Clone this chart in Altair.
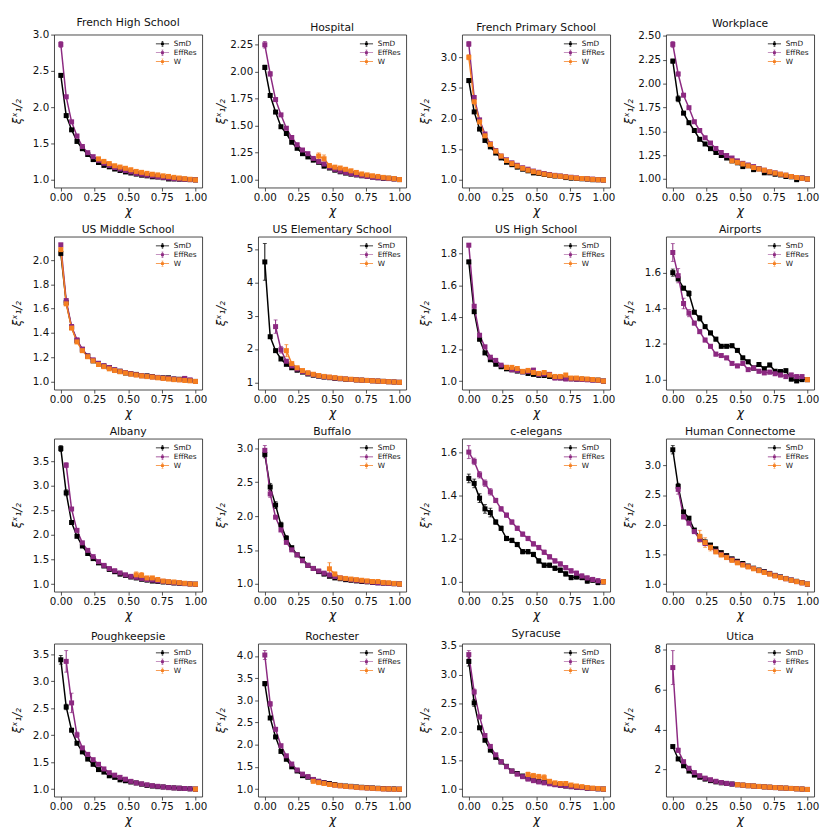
import altair as alt
import pandas as pd

N = None
CHI = [0.0, 0.04, 0.08, 0.12, 0.16, 0.2, 0.24, 0.28, 0.32, 0.36, 0.4, 0.44, 0.48,
       0.52, 0.56, 0.6, 0.64, 0.68, 0.72, 0.76, 0.8, 0.84, 0.88, 0.92, 0.96, 1.0]
SERIES = ["SmD", "EffRes", "W"]
COLORS = ["#000000", "#8c2981", "#f57f20"]
ERR_DEFAULT = 0.01
X_TICKS = [0.0, 0.25, 0.5, 0.75, 1.0]

# ---- French High School
FHS_SMD = [2.44, 1.886, 1.69, 1.53, 1.43, 1.35, 1.28, 1.24, 1.20, 1.18, 1.15, 1.13, 1.11, 1.095, 1.08, 1.065, 1.056, 1.043, 1.04, 1.03, 1.013, 1.013, 1.01, 1.009, 1.004, 1.0]
FHS_EFF = [2.866, 2.145, 1.80, 1.605, 1.46, 1.375, 1.32, 1.27, 1.23, 1.20, 1.17, 1.15, 1.13, 1.11, 1.09, 1.078, 1.065, 1.056, 1.043, 1.035, 1.026, 1.017, 1.013, 1.009, 1.004, 1.0]
FHS_W = [N, N, N, N, N, N, N, 1.29, 1.255, 1.225, 1.195, 1.177, 1.16, 1.14, 1.117, 1.104, 1.09, 1.078, 1.069, 1.056, 1.048, 1.035, 1.026, 1.017, 1.009, 1.0]
FHS_ERR = {"SmD": {0: 0.02}, "EffRes": {0: 0.04}}
FHS_TICKS = [1.0, 1.5, 2.0, 2.5, 3.0]

# ---- Hospital
HOS_SMD = [2.04, 1.78, 1.626, 1.49, 1.427, 1.346, 1.29, 1.24, 1.21, 1.18, 1.16, 1.124, 1.107, 1.087, 1.072, 1.06, 1.05, 1.043, 1.035, 1.03, 1.023, 1.017, 1.012, 1.012, 1.006, 1.0]
HOS_EFF = [2.25, 1.98, 1.742, 1.60, 1.476, 1.39, 1.323, 1.274, 1.24, 1.196, 1.167, 1.144, 1.115, 1.095, 1.078, 1.066, 1.055, 1.046, 1.038, 1.029, 1.023, 1.017, 1.014, 1.009, 1.006, 1.0]
HOS_W = [N, N, N, N, N, N, N, N, N, N, 1.217, 1.193, 1.13, 1.115, 1.107, 1.095, 1.081, 1.066, 1.052, 1.043, 1.035, 1.029, 1.02, 1.014, 1.009, 1.0]
HOS_ERR = {"SmD": {0: 0.02}, "EffRes": {0: 0.03, 1: 0.02}, "W": {10: 0.03, 11: 0.035}}
HOS_TICKS = [1.0, 1.25, 1.5, 1.75, 2.0, 2.25]

# ---- French Primary School
FPS_SMD = [2.62, 2.11, 1.83, 1.645, 1.54, 1.44, 1.36, 1.29, 1.25, 1.21, 1.176, 1.15, 1.116, 1.106, 1.09, 1.076, 1.065, 1.06, 1.04, 1.03, 1.025, 1.02, 1.015, 1.005, 1.005, 1.0]
FPS_EFF = [3.216, 2.345, 1.98, 1.75, 1.59, 1.48, 1.39, 1.33, 1.28, 1.24, 1.20, 1.176, 1.146, 1.126, 1.106, 1.09, 1.076, 1.065, 1.055, 1.045, 1.035, 1.025, 1.02, 1.015, 1.005, 1.0]
FPS_W = [3.0, 2.275, 1.947, 1.72, 1.58, 1.47, 1.39, 1.317, 1.267, 1.227, 1.19, 1.16, 1.136, 1.116, 1.096, 1.08, 1.07, 1.06, 1.05, 1.04, 1.03, 1.025, 1.02, 1.01, 1.005, 1.0]
FPS_ERR = {"SmD": {0: 0.03}, "EffRes": {0: 0.04}, "W": {0: 0.04}}
FPS_TICKS = [1.0, 1.5, 2.0, 2.5, 3.0]

# ---- Workplace
WRK_SMD = [2.235, 1.84, 1.69, 1.59, 1.508, 1.416, 1.367, 1.318, 1.278, 1.246, 1.22, 1.19, 1.17, 1.13, 1.14, 1.098, 1.108, 1.065, 1.065, 1.05, 1.043, 1.026, 1.023, 0.993, 1.01, 1.0]
WRK_EFF = [2.41, 2.10, 1.878, 1.747, 1.60, 1.508, 1.432, 1.377, 1.32, 1.278, 1.246, 1.22, 1.19, 1.164, 1.147, 1.13, 1.108, 1.092, 1.075, 1.065, 1.05, 1.04, 1.026, 1.016, 1.01, 1.0]
WRK_W = [N, N, N, N, N, N, N, N, N, N, N, 1.19, 1.174, 1.157, 1.138, 1.12, 1.105, 1.092, 1.075, 1.062, 1.05, 1.04, 1.026, 1.016, 1.007, 1.0]
WRK_ERR = {"SmD": {0: 0.02, 1: 0.03}, "EffRes": {0: 0.03, 1: 0.02}}
WRK_TICKS = [1.0, 1.25, 1.5, 1.75, 2.0, 2.25, 2.5]

# ---- US Middle School
UMS_SMD = [2.056, 1.65, 1.445, 1.336, 1.26, 1.21, 1.17, 1.145, 1.127, 1.115, 1.094, 1.084, 1.07, 1.064, 1.058, 1.048, 1.046, 1.04, 1.033, 1.03, 1.03, 1.02, 1.018, 1.02, 1.008, 1.0]
UMS_EFF = [2.127, 1.667, 1.453, 1.343, 1.267, 1.21, 1.178, 1.15, 1.13, 1.115, 1.097, 1.084, 1.074, 1.064, 1.056, 1.048, 1.043, 1.038, 1.033, 1.028, 1.025, 1.02, 1.015, 1.025, 1.013, 1.0]
UMS_W = [2.087, 1.64, 1.44, 1.326, 1.254, 1.204, 1.17, 1.14, 1.122, 1.104, 1.09, 1.08, 1.07, 1.06, 1.053, 1.046, 1.04, 1.036, 1.03, 1.025, 1.02, 1.015, 1.013, 1.008, 1.005, 1.0]
UMS_ERR = {"SmD": {0: 0.02}}
UMS_TICKS = [1.0, 1.2, 1.4, 1.6, 1.8, 2.0]

# ---- US Elementary School
UES_SMD = [4.61, 2.367, 1.95, 1.70, 1.54, 1.437, 1.363, 1.307, 1.25, 1.214, 1.186, 1.158, 1.14, 1.12, 1.11, 1.093, 1.084, 1.074, 1.065, 1.056, 1.047, 1.037, 1.028, 1.019, 1.01, 1.0]
UES_EFF = [N, N, 2.67, 1.977, 1.633, 1.493, 1.40, 1.326, 1.27, 1.23, 1.195, 1.167, 1.149, 1.13, 1.11, 1.10, 1.084, 1.074, 1.065, 1.056, 1.047, 1.037, 1.028, 1.019, 1.01, 1.0]
UES_W = [N, N, N, N, 1.95, 1.56, 1.437, 1.353, 1.288, 1.242, 1.205, 1.177, 1.158, 1.14, 1.12, 1.10, 1.093, 1.074, 1.065, 1.056, 1.047, 1.037, 1.028, 1.019, 1.01, 1.0]
UES_ERR = {"SmD": {0: 0.55}, "EffRes": {2: 0.2, 3: 0.1}, "W": {4: 0.18, 5: 0.05}}
UES_TICKS = [1, 2, 3, 4, 5]

# ---- US High School
UHS_SMD = [1.749, 1.436, 1.263, 1.177, 1.134, 1.106, 1.09, 1.077, 1.071, 1.063, 1.058, 1.048, 1.042, 1.036, 1.035, 1.029, 1.023, 1.021, 1.017, 1.015, 1.013, 1.012, 1.01, 1.008, 1.006, 1.0]
UHS_EFF = [1.854, 1.47, 1.288, 1.215, 1.15, 1.13, 1.10, 1.086, 1.071, 1.067, 1.058, 1.061, 1.069, 1.042, 1.044, 1.042, 1.019, 1.019, 1.013, 1.013, 1.012, 1.01, 1.008, 1.006, 1.004, 1.0]
UHS_W = [N, N, N, N, N, N, N, 1.086, 1.086, 1.079, 1.061, 1.067, 1.054, 1.048, 1.054, 1.038, 1.029, 1.029, 1.038, 1.019, 1.019, 1.015, 1.013, 1.01, 1.006, 1.0]
UHS_ERR = {}
UHS_TICKS = [1.0, 1.2, 1.4, 1.6, 1.8]

# ---- Airports
AIR_SMD = [1.60, 1.565, 1.513, 1.483, 1.378, 1.344, 1.297, 1.262, 1.227, 1.187, 1.187, 1.19, 1.164, 1.122, 1.10, 1.065, 1.085, 1.061, 1.082, 1.047, 1.045, 1.05, 1.003, 0.993, 1.0, 1.0]
AIR_EFF = [1.713, 1.583, 1.427, 1.373, 1.317, 1.269, 1.222, 1.187, 1.143, 1.135, 1.122, 1.091, 1.077, 1.091, 1.056, 1.065, 1.047, 1.038, 1.042, 1.033, 1.026, 1.017, 1.026, 1.017, 1.017, 1.0]
AIR_W = [N, N, N, N, N, N, N, N, N, N, N, N, N, N, N, N, N, N, N, N, N, N, N, N, N, 1.0]
AIR_ERR = {"SmD": {0: 0.02, 3: 0.015, 5: 0.015}, "EffRes": {0: 0.05, 1: 0.04, 2: 0.03, 3: 0.02}}
AIR_TICKS = [1.0, 1.2, 1.4, 1.6]

# ---- Albany
ALB_SMD = [3.755, 2.857, 2.253, 1.973, 1.776, 1.623, 1.52, 1.433, 1.37, 1.30, 1.254, 1.204, 1.178, 1.146, 1.127, 1.10, 1.083, 1.064, 1.057, 1.045, 1.038, 1.025, 1.019, 1.013, 1.006, 1.0]
ALB_EFF = [N, 3.417, 2.527, 2.094, 1.84, 1.687, 1.56, 1.458, 1.382, 1.318, 1.274, 1.229, 1.19, 1.159, 1.14, 1.115, 1.095, 1.083, 1.07, 1.057, 1.045, 1.032, 1.025, 1.013, 1.006, 1.0]
ALB_W = [N, N, N, N, N, N, N, N, N, N, N, N, N, N, 1.19, 1.178, 1.127, 1.127, 1.095, 1.064, 1.051, 1.045, 1.032, 1.019, 1.006, 1.0]
ALB_ERR = {"SmD": {0: 0.06, 1: 0.06}, "EffRes": {1: 0.05}, "W": {14: 0.06, 15: 0.06, 16: 0.03, 17: 0.03}}
ALB_TICKS = [1.0, 1.5, 2.0, 2.5, 3.0, 3.5]

# ---- Buffalo
BUF_SMD = [2.908, 2.428, 2.162, 1.87, 1.673, 1.535, 1.43, 1.366, 1.275, 1.229, 1.183, 1.146, 1.114, 1.09, 1.078, 1.064, 1.055, 1.046, 1.037, 1.032, 1.023, 1.018, 1.014, 1.009, 1.005, 1.0]
BUF_EFF = [2.968, 2.327, 1.984, 1.796, 1.613, 1.503, 1.43, 1.343, 1.275, 1.229, 1.192, 1.16, 1.133, 1.11, 1.09, 1.078, 1.064, 1.055, 1.046, 1.037, 1.027, 1.018, 1.014, 1.009, 1.005, 1.0]
BUF_W = [N, N, N, N, N, N, N, N, N, N, N, N, 1.224, 1.146, 1.09, 1.082, 1.073, 1.064, 1.055, 1.046, 1.037, 1.037, 1.023, 1.018, 1.009, 1.0]
BUF_ERR = {"SmD": {0: 0.05, 1: 0.05, 2: 0.05, 3: 0.04, 4: 0.04}, "EffRes": {0: 0.07, 1: 0.05}, "W": {12: 0.09, 13: 0.03}}
BUF_TICKS = [1.0, 1.5, 2.0, 2.5, 3.0]

# ---- c-elegans
CEL_SMD = [1.478, 1.455, 1.387, 1.337, 1.32, 1.276, 1.247, 1.20, 1.191, 1.172, 1.139, 1.139, 1.126, 1.096, 1.076, 1.076, 1.062, 1.053, 1.036, 1.019, 1.022, 1.019, 1.003, 1.007, 0.996, 1.0]
CEL_EFF = [1.60, 1.557, 1.495, 1.456, 1.416, 1.376, 1.337, 1.308, 1.276, 1.247, 1.22, 1.20, 1.175, 1.158, 1.136, 1.115, 1.096, 1.082, 1.065, 1.05, 1.039, 1.026, 1.017, 1.01, 1.004, 1.0]
CEL_W = [N, N, N, N, N, N, N, N, N, N, N, N, N, N, N, N, N, N, N, N, N, N, N, N, N, 1.0]
CEL_ERR = {"SmD": {0: 0.02, 1: 0.02, 2: 0.02, 3: 0.02, 4: 0.02, 10: 0.01, 14: 0.01},
           "EffRes": {0: 0.03, 1: 0.015, 2: 0.015, 3: 0.015, 4: 0.015}}
CEL_TICKS = [1.0, 1.2, 1.4, 1.6]

# ---- Human Connectome
HCN_SMD = [3.263, 2.647, 2.216, 2.11, 1.91, 1.795, 1.71, 1.658, 1.595, 1.53, 1.48, 1.426, 1.384, 1.347, 1.305, 1.268, 1.237, 1.21, 1.18, 1.147, 1.121, 1.095, 1.068, 1.047, 1.026, 1.0]
HCN_EFF = [N, 2.595, 2.13, 2.026, 1.884, 1.753, 1.684, 1.62, 1.553, 1.50, 1.453, 1.41, 1.368, 1.33, 1.295, 1.263, 1.23, 1.20, 1.174, 1.142, 1.116, 1.09, 1.068, 1.042, 1.021, 1.0]
HCN_W = [N, N, N, N, N, 1.805, 1.70, 1.62, 1.542, 1.49, 1.447, 1.40, 1.358, 1.32, 1.29, 1.258, 1.226, 1.195, 1.168, 1.137, 1.11, 1.09, 1.063, 1.042, 1.021, 1.0]
HCN_ERR = {"SmD": {0: 0.07, 1: 0.05}, "EffRes": {1: 0.08}, "W": {5: 0.1, 6: 0.08, 7: 0.06}}
HCN_TICKS = [1.0, 1.5, 2.0, 2.5, 3.0]

# ---- Poughkeepsie
POU_SMD = [3.397, 2.523, 2.092, 1.85, 1.69, 1.557, 1.46, 1.362, 1.316, 1.247, 1.218, 1.172, 1.155, 1.132, 1.115, 1.092, 1.069, 1.057, 1.046, 1.04, 1.029, 1.023, 1.017, 1.011, 1.006, 1.0]
POU_EFF = [N, 3.368, 2.598, 2.006, 1.764, 1.644, 1.546, 1.46, 1.374, 1.305, 1.259, 1.218, 1.184, 1.144, 1.115, 1.098, 1.08, 1.063, 1.052, 1.04, 1.029, 1.023, 1.017, 1.011, 1.006, 1.0]
POU_W = [N, N, N, N, N, N, N, N, N, N, N, N, N, N, N, N, N, N, N, N, N, N, N, N, N, 1.0]
POU_ERR = {"SmD": {0: 0.08, 1: 0.05}, "EffRes": {1: 0.2, 2: 0.18, 3: 0.05}}
POU_TICKS = [1.0, 1.5, 2.0, 2.5, 3.0, 3.5]

# ---- Rochester
ROC_SMD = [3.376, 2.603, 2.177, 1.851, 1.674, 1.504, 1.411, 1.305, 1.27, 1.213, 1.177, 1.149, 1.128, 1.106, 1.085, 1.071, 1.064, 1.05, 1.043, 1.035, 1.028, 1.021, 1.014, 1.007, 1.007, 1.0]
ROC_EFF = [4.02, 2.92, 2.348, 1.979, 1.752, 1.567, 1.433, 1.34, 1.284, 1.22, 1.177, 1.142, 1.113, 1.092, 1.078, 1.064, 1.057, 1.043, 1.035, 1.028, 1.021, 1.014, 1.007, 1.007, 1.0, 1.0]
ROC_W = [N, N, N, N, N, N, N, N, N, 1.177, 1.149, 1.128, 1.106, 1.092, 1.078, 1.064, 1.057, 1.043, 1.035, 1.028, 1.021, 1.014, 1.007, 1.007, 1.0, 1.0]
ROC_ERR = {"SmD": {0: 0.05}, "EffRes": {0: 0.1, 1: 0.05}}
ROC_TICKS = [1.0, 1.5, 2.0, 2.5, 3.0, 3.5, 4.0]

# ---- Syracuse
SYR_SMD = [3.228, 2.505, 2.07, 1.853, 1.68, 1.554, 1.473, 1.397, 1.315, 1.272, 1.228, 1.19, 1.163, 1.136, 1.12, 1.098, 1.082, 1.065, 1.054, 1.043, 1.033, 1.027, 1.016, 1.011, 1.005, 1.0]
SYR_EFF = [3.348, 2.696, 2.26, 1.935, 1.745, 1.598, 1.478, 1.391, 1.315, 1.26, 1.217, 1.174, 1.147, 1.125, 1.109, 1.092, 1.076, 1.065, 1.054, 1.043, 1.033, 1.027, 1.016, 1.011, 1.005, 1.0]
SYR_W = [N, N, N, N, N, N, N, N, N, N, N, 1.255, 1.234, 1.217, 1.20, 1.136, 1.109, 1.098, 1.098, 1.071, 1.054, 1.043, 1.027, 1.016, 1.011, 1.0]
SYR_ERR = {"SmD": {0: 0.08, 1: 0.06}, "EffRes": {0: 0.07, 1: 0.05},
           "W": {11: 0.04, 12: 0.04, 13: 0.04, 14: 0.05, 15: 0.02}}
SYR_TICKS = [1.0, 1.5, 2.0, 2.5, 3.0, 3.5]

# ---- Utica
UTI_SMD = [3.147, 2.527, 2.186, 1.922, 1.72, 1.612, 1.519, 1.442, 1.38, 1.333, 1.302, 1.271, 1.24, 1.215, 1.19, 1.17, 1.15, 1.13, 1.112, 1.095, 1.08, 1.065, 1.05, 1.035, 1.018, 1.0]
UTI_EFF = [7.10, 2.96, 2.39, 2.06, 1.845, 1.69, 1.566, 1.488, 1.41, 1.349, 1.302, 1.271, 1.24, 1.215, 1.19, 1.17, 1.15, 1.13, 1.112, 1.095, 1.08, 1.065, 1.05, 1.035, 1.018, 1.0]
UTI_W = [N, N, N, N, N, N, N, N, N, N, N, N, 1.24, 1.215, 1.19, 1.17, 1.15, 1.13, 1.112, 1.095, 1.08, 1.065, 1.05, 1.035, 1.018, 1.0]
UTI_ERR = {"EffRes": {0: 0.85, 1: 0.1}}
UTI_TICKS = [2, 4, 6, 8]

PANELS = [
    ("French High School", FHS_SMD, FHS_EFF, FHS_W, FHS_ERR, FHS_TICKS, ".1f"),
    ("Hospital", HOS_SMD, HOS_EFF, HOS_W, HOS_ERR, HOS_TICKS, ".2f"),
    ("French Primary School", FPS_SMD, FPS_EFF, FPS_W, FPS_ERR, FPS_TICKS, ".1f"),
    ("Workplace", WRK_SMD, WRK_EFF, WRK_W, WRK_ERR, WRK_TICKS, ".2f"),
    ("US Middle School", UMS_SMD, UMS_EFF, UMS_W, UMS_ERR, UMS_TICKS, ".1f"),
    ("US Elementary School", UES_SMD, UES_EFF, UES_W, UES_ERR, UES_TICKS, "d"),
    ("US High School", UHS_SMD, UHS_EFF, UHS_W, UHS_ERR, UHS_TICKS, ".1f"),
    ("Airports", AIR_SMD, AIR_EFF, AIR_W, AIR_ERR, AIR_TICKS, ".1f"),
    ("Albany", ALB_SMD, ALB_EFF, ALB_W, ALB_ERR, ALB_TICKS, ".1f"),
    ("Buffalo", BUF_SMD, BUF_EFF, BUF_W, BUF_ERR, BUF_TICKS, ".1f"),
    ("c-elegans", CEL_SMD, CEL_EFF, CEL_W, CEL_ERR, CEL_TICKS, ".1f"),
    ("Human Connectome", HCN_SMD, HCN_EFF, HCN_W, HCN_ERR, HCN_TICKS, ".1f"),
    ("Poughkeepsie", POU_SMD, POU_EFF, POU_W, POU_ERR, POU_TICKS, ".1f"),
    ("Rochester", ROC_SMD, ROC_EFF, ROC_W, ROC_ERR, ROC_TICKS, ".1f"),
    ("Syracuse", SYR_SMD, SYR_EFF, SYR_W, SYR_ERR, SYR_TICKS, ".1f"),
    ("Utica", UTI_SMD, UTI_EFF, UTI_W, UTI_ERR, UTI_TICKS, "d"),
]

PANEL_W = 151
PANEL_H = 156
Y_TITLE = "ξˣ₁/₂"

# legend glyph: line + square marker + error bar (all filled sub-shapes)
LEGEND_SYMBOL = ("M-1.5,-0.08L1.5,-0.08L1.5,0.08L-1.5,0.08Z"
                 "M-0.32,-0.32L0.32,-0.32L0.32,0.32L-0.32,0.32Z"
                 "M-0.06,-0.62L0.06,-0.62L0.06,0.62L-0.06,0.62Z"
                 "M-0.22,-0.66L0.22,-0.66L0.22,-0.56L-0.22,-0.56Z"
                 "M-0.22,0.56L0.22,0.56L0.22,0.66L-0.22,0.66Z")


def make_panel(title, smd, eff, w, errs, ticks, fmt):
    rows = []
    for s, vals in zip(SERIES, [smd, eff, w]):
        for i, (c, v) in enumerate(zip(CHI, vals)):
            if v is None:
                continue
            e = errs.get(s, {}).get(i, ERR_DEFAULT)
            rows.append({"series": s, "chi": c, "val": v, "lo": v - e, "hi": v + e})
    df = pd.DataFrame(rows)
    lo, hi = df["lo"].min(), df["hi"].max()
    pad = 0.05 * (hi - lo)
    yscale = alt.Scale(domain=[lo - pad, hi + pad], nice=False, zero=False)
    xscale = alt.Scale(domain=[-0.05, 1.05], nice=False, zero=False)
    xaxis = alt.Axis(values=X_TICKS, format=".2f", title="χ")
    yaxis = alt.Axis(values=ticks, format=fmt, title=Y_TITLE)

    def X():
        return alt.X("chi:Q", scale=xscale, axis=xaxis)

    def Y(field):
        return alt.Y(field + ":Q", scale=yscale, axis=yaxis)

    # stroke / fill scales list the series in reverse order so that their
    # (hidden) legends are not merged with the visible colour legend
    rev_scale = alt.Scale(domain=SERIES[::-1], range=COLORS[::-1])
    stroke_nl = alt.Stroke("series:N", scale=rev_scale, legend=None)
    fill_nl = alt.Fill("series:N", scale=rev_scale, legend=None)
    col_leg = alt.Color("series:N", scale=alt.Scale(domain=SERIES, range=COLORS),
                        legend=alt.Legend(title=None, symbolType=LEGEND_SYMBOL))

    base = alt.Chart(df)
    rules = base.mark_rule(strokeWidth=1).encode(x=X(), y=Y("lo"), y2="hi:Q", stroke=stroke_nl)
    cap_lo = base.mark_tick(orient="horizontal", size=4, thickness=1).encode(
        x=X(), y=Y("lo"), fill=fill_nl)
    cap_hi = base.mark_tick(orient="horizontal", size=4, thickness=1).encode(
        x=X(), y=Y("hi"), fill=fill_nl)
    line = base.mark_line(strokeWidth=1.5).encode(x=X(), y=Y("val"), stroke=stroke_nl)
    pts = base.mark_square(size=26, opacity=1).encode(x=X(), y=Y("val"), color=col_leg)
    return alt.layer(rules, cap_lo, cap_hi, line, pts).properties(
        width=PANEL_W, height=PANEL_H, title=alt.TitleParams(title))


panels = [make_panel(*p) for p in PANELS]

chart = (
    alt.concat(*panels, columns=4, spacing=6)
    .resolve_scale(x="independent", y="independent", color="independent",
                   stroke="independent", fill="independent")
    .resolve_legend(color="independent")
    .properties(padding={"left": 2, "right": 2, "top": 0, "bottom": 0})
    .configure(font="DejaVu Sans")
    .configure_view(stroke="#333333", strokeWidth=0.9)
    .configure_axis(domain=False, grid=False, tickSize=3.5, tickWidth=0.8,
                    tickColor="#222222", labelFontSize=10.5, labelColor="#111111",
                    labelPadding=2, titleFontSize=12, titleFontWeight="normal",
                    titleColor="#111111", titleFontStyle="italic", labelFlush=False)
    .configure_axisX(titlePadding=2)
    .configure_axisY(titlePadding=2, minExtent=29, maxExtent=29)
    .configure_legend(orient="top-right", offset=5, padding=0, rowPadding=1,
                      labelFontSize=7.5, labelColor="#111111", symbolSize=80,
                      labelOffset=7, symbolStrokeWidth=0)
    .configure_title(fontSize=11, fontWeight="normal", offset=2, anchor="middle",
                     color="#111111")
)

chart.save("out.html", embed_options={"renderer": "svg", "actions": False})
